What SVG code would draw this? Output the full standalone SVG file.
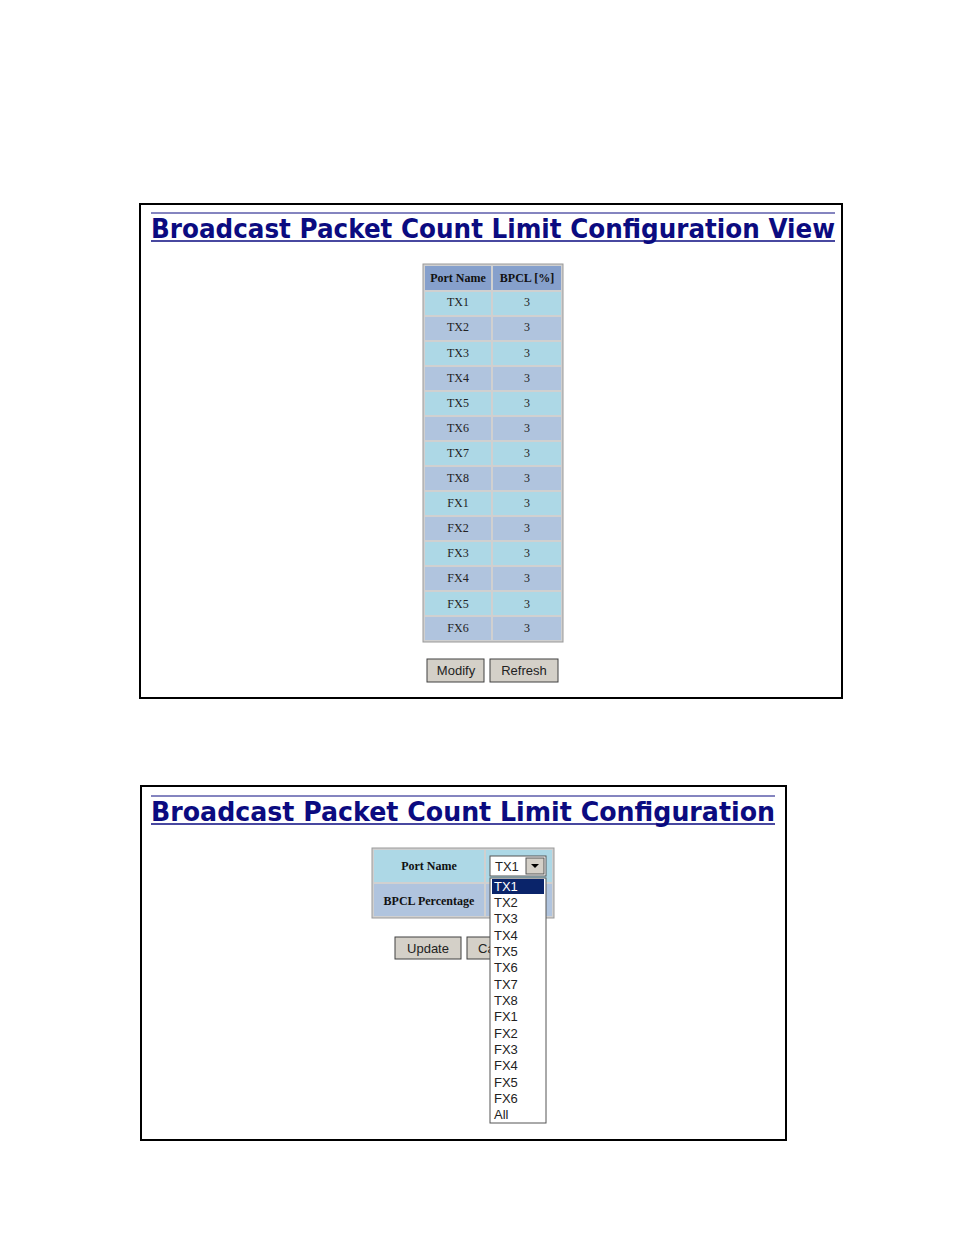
<svg xmlns="http://www.w3.org/2000/svg" width="954" height="1235" viewBox="0 0 954 1235">
<style>
.t{font-family:"DejaVu Sans",Verdana,sans-serif;font-weight:bold;font-size:26px;fill:#0b0b80}
.c{font-family:"Liberation Serif",serif;font-size:12px;fill:#222;text-anchor:middle}
.h{font-family:"Liberation Serif",serif;font-size:12px;font-weight:bold;fill:#111;text-anchor:middle}
.b{font-family:"Liberation Sans",Arial,sans-serif;font-size:13px;fill:#222;text-anchor:middle}
.o{font-family:"Liberation Sans",Arial,sans-serif;font-size:13px;fill:#222}
.r1{fill:#add8e6}.r2{fill:#b0c4de}.hd{fill:#86a0cc}
.btn{fill:#d4d0c8;stroke:#404040;stroke-width:1}
</style>
<rect width="954" height="1235" fill="#fff"/>
<g id="panel1">
<rect x="140" y="204" width="702" height="494" fill="#fff" stroke="#000" stroke-width="2"/>
<line x1="151" y1="213" x2="835" y2="213" stroke="#0b0b80"/>
<text class="t" x="151" y="238" textLength="684" lengthAdjust="spacingAndGlyphs">Broadcast Packet Count Limit Configuration View</text>
<line x1="151" y1="241" x2="835" y2="241" stroke="#0b0b80" stroke-width="1.5"/>
<rect x="423" y="264" width="140" height="378" fill="#d0d0d0" stroke="#999"/>
<rect class="hd" x="425" y="266" width="66" height="24"/><rect class="hd" x="493" y="266" width="68" height="24"/>
<text class="h" x="458" y="282">Port Name</text><text class="h" x="527" y="282">BPCL [%]</text>
<g id="rows">
<rect class="r1" x="425" y="292" width="66" height="23"/><rect class="r1" x="493" y="292" width="68" height="23"/><text class="c" x="458" y="306">TX1</text><text class="c" x="527" y="306">3</text>
<rect class="r2" x="425" y="317" width="66" height="23"/><rect class="r2" x="493" y="317" width="68" height="23"/><text class="c" x="458" y="331">TX2</text><text class="c" x="527" y="331">3</text>
<rect class="r1" x="425" y="342" width="66" height="23"/><rect class="r1" x="493" y="342" width="68" height="23"/><text class="c" x="458" y="357">TX3</text><text class="c" x="527" y="357">3</text>
<rect class="r2" x="425" y="367" width="66" height="23"/><rect class="r2" x="493" y="367" width="68" height="23"/><text class="c" x="458" y="382">TX4</text><text class="c" x="527" y="382">3</text>
<rect class="r1" x="425" y="392" width="66" height="23"/><rect class="r1" x="493" y="392" width="68" height="23"/><text class="c" x="458" y="407">TX5</text><text class="c" x="527" y="407">3</text>
<rect class="r2" x="425" y="417" width="66" height="23"/><rect class="r2" x="493" y="417" width="68" height="23"/><text class="c" x="458" y="432">TX6</text><text class="c" x="527" y="432">3</text>
<rect class="r1" x="425" y="442" width="66" height="23"/><rect class="r1" x="493" y="442" width="68" height="23"/><text class="c" x="458" y="457">TX7</text><text class="c" x="527" y="457">3</text>
<rect class="r2" x="425" y="467" width="66" height="23"/><rect class="r2" x="493" y="467" width="68" height="23"/><text class="c" x="458" y="482">TX8</text><text class="c" x="527" y="482">3</text>
<rect class="r1" x="425" y="492" width="66" height="23"/><rect class="r1" x="493" y="492" width="68" height="23"/><text class="c" x="458" y="507">FX1</text><text class="c" x="527" y="507">3</text>
<rect class="r2" x="425" y="517" width="66" height="23"/><rect class="r2" x="493" y="517" width="68" height="23"/><text class="c" x="458" y="532">FX2</text><text class="c" x="527" y="532">3</text>
<rect class="r1" x="425" y="542" width="66" height="23"/><rect class="r1" x="493" y="542" width="68" height="23"/><text class="c" x="458" y="557">FX3</text><text class="c" x="527" y="557">3</text>
<rect class="r2" x="425" y="567" width="66" height="23"/><rect class="r2" x="493" y="567" width="68" height="23"/><text class="c" x="458" y="582">FX4</text><text class="c" x="527" y="582">3</text>
<rect class="r1" x="425" y="592" width="66" height="23"/><rect class="r1" x="493" y="592" width="68" height="23"/><text class="c" x="458" y="608">FX5</text><text class="c" x="527" y="608">3</text>
<rect class="r2" x="425" y="617" width="66" height="23"/><rect class="r2" x="493" y="617" width="68" height="23"/><text class="c" x="458" y="632">FX6</text><text class="c" x="527" y="632">3</text>
</g>
<rect class="btn" x="427" y="659" width="57" height="23"/><text class="b" x="456" y="675">Modify</text>
<rect class="btn" x="490" y="659" width="68" height="23"/><text class="b" x="524" y="675">Refresh</text>
</g>
<g id="panel2">
<rect x="141" y="786" width="645" height="354" fill="#fff" stroke="#000" stroke-width="2"/>
<line x1="151" y1="796" x2="775" y2="796" stroke="#0b0b80"/>
<text class="t" x="151" y="821" textLength="624" lengthAdjust="spacingAndGlyphs">Broadcast Packet Count Limit Configuration</text>
<line x1="151" y1="824" x2="775" y2="824" stroke="#0b0b80" stroke-width="1.5"/>
<rect x="372" y="848" width="182" height="70" fill="#d0d0d0" stroke="#999"/>
<rect class="r1" x="374" y="850" width="110" height="32"/><rect class="r1" x="486" y="850" width="66" height="32"/>
<rect class="r2" x="374" y="884" width="110" height="32"/><rect class="r2" x="486" y="884" width="66" height="32"/>
<text class="h" x="429" y="870">Port Name</text><text class="h" x="429" y="905">BPCL Percentage</text>
<rect x="490" y="856" width="56" height="20" fill="#fff" stroke="#555"/>
<text class="o" x="495" y="871">TX1</text>
<rect x="526" y="858" width="18" height="16" fill="#d4d0c8" stroke="#555"/>
<path d="M531 864 L539 864 L535 868 Z" fill="#000"/>
<rect class="btn" x="395" y="937" width="66" height="22"/><text class="b" x="428" y="953">Update</text>
<rect class="btn" x="467" y="937" width="40" height="22"/><text class="o" x="478" y="953">Ca</text>
<rect x="490" y="878" width="56" height="245" fill="#fff" stroke="#555"/>
<rect x="492" y="879" width="52" height="15" fill="#0a246a"/>
<text class="o" x="494" y="891" fill="#fff" style="fill:#fff">TX1</text>
<text class="o" x="494" y="907">TX2</text>
<text class="o" x="494" y="923">TX3</text>
<text class="o" x="494" y="940">TX4</text>
<text class="o" x="494" y="956">TX5</text>
<text class="o" x="494" y="972">TX6</text>
<text class="o" x="494" y="989">TX7</text>
<text class="o" x="494" y="1005">TX8</text>
<text class="o" x="494" y="1021">FX1</text>
<text class="o" x="494" y="1038">FX2</text>
<text class="o" x="494" y="1054">FX3</text>
<text class="o" x="494" y="1070">FX4</text>
<text class="o" x="494" y="1087">FX5</text>
<text class="o" x="494" y="1103">FX6</text>
<text class="o" x="494" y="1119">All</text>
</g>
</svg>
